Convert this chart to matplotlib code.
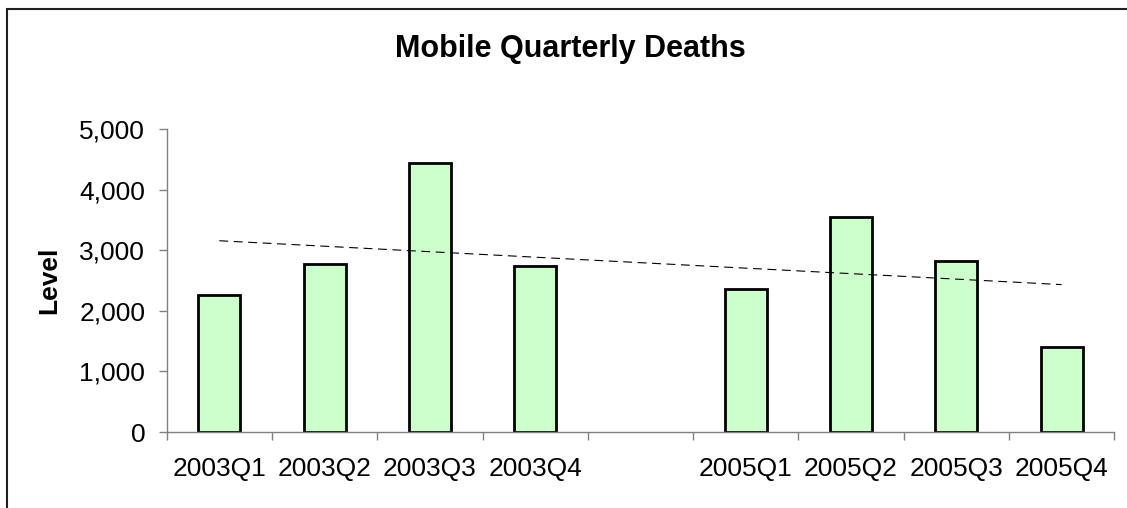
import matplotlib
matplotlib.use("Agg")
import matplotlib.pyplot as plt
from matplotlib.patches import Rectangle
from matplotlib.ticker import FixedLocator, FuncFormatter
import numpy as np

plt.rcParams['font.family'] = ['Liberation Sans', 'DejaVu Sans']

# data (2004 slot left empty in the original)
quarters = ["2003Q1", "2003Q2", "2003Q3", "2003Q4", "",
            "2005Q1", "2005Q2", "2005Q3", "2005Q4"]
deaths = [2260, 2780, 4440, 2750, np.nan, 2360, 3550, 2825, 1410]

x = np.arange(len(quarters))
vals = np.array(deaths, dtype=float)
ok = ~np.isnan(vals)

fig = plt.figure(figsize=(11.27, 5.08), dpi=100)
ax = fig.add_axes([0.1479, 0.1496, 0.8408, 0.5959])

ax.bar(x[ok], vals[ok], width=0.4, color="#CCFFCC",
       edgecolor="black", linewidth=2.0, zorder=2)

# linear trend line over the quarters that have data
slope, icpt = np.polyfit(x[ok], vals[ok], 1)
xt = np.array([x[0], x[-1]])
ax.plot(xt, icpt + slope * xt, color="black", linewidth=0.8,
        linestyle=(0, (8, 5)), zorder=3)

ax.set_xlim(-0.5, len(quarters) - 0.5)
ax.set_ylim(0, 5000)
ax.set_yticks(np.arange(0, 5001, 1000))
ax.yaxis.set_major_formatter(FuncFormatter(lambda v, p: f"{int(v):,}"))

ax.set_xticks(x)
ax.set_xticklabels(quarters)
ax.xaxis.set_minor_locator(FixedLocator(np.arange(-0.5, len(quarters), 1.0)))
ax.tick_params(axis="x", which="major", length=0, pad=18, labelsize=19)
ax.tick_params(axis="x", which="minor", length=6, width=1, color="#808080")
ax.tick_params(axis="y", length=6, width=1, color="#808080", pad=9.5, labelsize=19)

for s in ["top", "right"]:
    ax.spines[s].set_visible(False)
for s in ["left", "bottom"]:
    ax.spines[s].set_color("#808080")
    ax.spines[s].set_linewidth(1)

fig.text(0.506, 0.888, "Mobile Quarterly Deaths", ha="center", va="baseline",
         fontsize=22, fontweight="bold")
fig.text(0.044, 0.448, "Level", rotation=90, ha="center", va="center",
         fontsize=19, fontweight="bold")

# outer chart-area frame, running off the right and bottom edges
fig.patches.append(Rectangle((0.006, -0.1), 1.2, 1.082, transform=fig.transFigure,
                             fill=False, edgecolor="#202020", linewidth=1.5))

fig.savefig("out.png", dpi=100)
